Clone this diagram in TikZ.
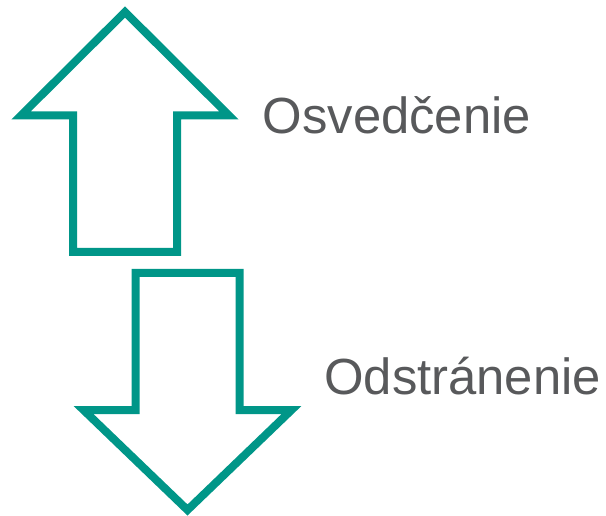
\documentclass[tikz,border=0pt]{standalone}
\usepackage{fontspec}
\setmainfont{Liberation Sans}
\usetikzlibrary{calc}
\definecolor{arrowteal}{RGB}{0,150,136}
\definecolor{labelgray}{RGB}{88,89,91}
\newcommand{\drawblock}{\draw[arrowteal, line width=6pt, line join=miter, fill=white]}

\begin{document}
\begin{tikzpicture}[x=0.75pt, y=-0.75pt,
    label/.style={anchor=base west, inner sep=0pt, text=labelgray, font=\fontsize{38.1pt}{45pt}\selectfont}]
    \useasboundingbox (0,0) rectangle (606,516);
    \def\shaft{52}
    \def\head{104}

    % Upward arrow
    \coordinate (uptip) at (125, 12);
    \coordinate (upbase) at (125, 115.5);
    \coordinate (upend) at (125, 252);
    \drawblock (uptip)
        -- ($(upbase)+(\head,0)$) -- ($(upbase)+(\shaft,0)$)
        -- ($(upend)+(\shaft,0)$) -- ($(upend)-(\shaft,0)$)
        -- ($(upbase)-(\shaft,0)$) -- ($(upbase)-(\head,0)$) -- cycle;

    % Downward arrow
    \coordinate (downtop) at (187.5, 273);
    \coordinate (downbase) at (187.5, 410);
    \coordinate (downtip) at (187.5, 510);
    \drawblock (downtip)
        -- ($(downbase)+(\head,0)$) -- ($(downbase)+(\shaft,0)$)
        -- ($(downtop)+(\shaft,0)$) -- ($(downtop)-(\shaft,0)$)
        -- ($(downbase)-(\shaft,0)$) -- ($(downbase)-(\head,0)$) -- cycle;

    % Labels
    \node[label] (proof) at (262.5, 134) {Osvedčenie};
    \node[label] (removal) at (324, 394) {Odstránenie};
\end{tikzpicture}
\end{document}
